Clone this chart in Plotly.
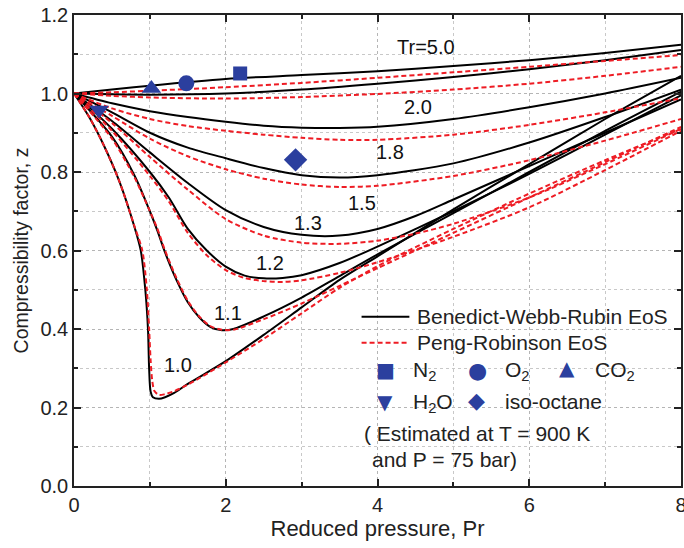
import plotly.graph_objects as go

# ---------------- data ----------------
# Benedict-Webb-Rubin EoS curves
pr_bwr_50 = [0, 0.5, 1, 2, 3, 4, 5, 6, 7, 8]
z_bwr_50 = [1.0, 1.01, 1.02, 1.037, 1.047, 1.057, 1.07, 1.085, 1.103, 1.124]
pr_bwr_20 = [0, 0.5, 1, 2, 3, 4, 5, 6, 7, 8]
z_bwr_20 = [1.0, 0.998, 0.997, 1.0, 1.01, 1.025, 1.042, 1.062, 1.085, 1.111]
pr_bwr_18 = [0, 0.5, 1, 1.5, 2, 2.5, 3, 3.5, 4, 5, 6, 7, 8]
z_bwr_18 = [1.0, 0.975, 0.955, 0.94, 0.928, 0.918, 0.913, 0.912, 0.915, 0.935, 0.965, 1.0, 1.04]
pr_bwr_15 = [0, 0.5, 1, 1.5, 2, 2.5, 3, 3.5, 4, 5, 6, 7, 8]
z_bwr_15 = [1.0, 0.952, 0.9, 0.862, 0.835, 0.81, 0.792, 0.786, 0.792, 0.822, 0.875, 0.94, 1.01]
pr_bwr_13 = [0, 0.5, 1, 1.5, 2, 2.5, 3, 3.5, 4, 4.5, 5, 6, 7, 8]
z_bwr_13 = [1.0, 0.93, 0.85, 0.772, 0.703, 0.66, 0.64, 0.638, 0.655, 0.688, 0.73, 0.815, 0.9, 0.985]
pr_bwr_12 = [0, 0.5, 1, 1.25, 1.5, 1.75, 2, 2.25, 2.5, 2.75, 3, 3.5, 4, 5, 6, 7, 8]
z_bwr_12 = [1.0, 0.91, 0.8, 0.735, 0.655, 0.6, 0.559, 0.536, 0.529, 0.53, 0.537, 0.568, 0.61,
            0.7, 0.795, 0.895, 0.995]
pr_bwr_11 = [0, 0.5, 0.8, 1.0, 1.1, 1.2, 1.35, 1.5, 1.65, 1.8, 1.95, 2.1, 2.5, 3, 3.5, 4, 5, 6, 7, 8]
z_bwr_11 = [1.0, 0.89, 0.79, 0.70, 0.65, 0.595, 0.525, 0.468, 0.43, 0.405, 0.397, 0.4, 0.432,
            0.48, 0.535, 0.59, 0.695, 0.8, 0.905, 1.005]
pr_bwr_10 = [0, 0.2, 0.4, 0.6, 0.8, 0.88, 0.94, 0.975, 0.99, 1.01, 1.04, 1.12, 1.2, 1.32, 1.5, 2,
             2.5, 3, 3.5, 4, 5, 6, 7, 8]
z_bwr_10 = [1.0, 0.94, 0.865, 0.775, 0.658, 0.6, 0.5, 0.4, 0.3, 0.24, 0.226, 0.222, 0.226, 0.237,
            0.26, 0.318, 0.385, 0.455, 0.525, 0.585, 0.705, 0.82, 0.935, 1.045]

# Peng-Robinson EoS curves
pr_pr_50 = [0, 0.5, 1, 2, 3, 4, 5, 6, 7, 8]
z_pr_50 = [1.0, 1.003, 1.007, 1.016, 1.027, 1.04, 1.054, 1.068, 1.083, 1.098]
pr_pr_20 = [0, 0.5, 1, 2, 3, 4, 5, 6, 7, 8]
z_pr_20 = [1.0, 0.994, 0.99, 0.987, 0.991, 0.999, 1.01, 1.025, 1.045, 1.068]
pr_pr_18 = [0, 0.5, 1, 1.5, 2, 2.5, 3, 3.5, 4, 5, 6, 7, 8]
z_pr_18 = [1.0, 0.962, 0.935, 0.917, 0.905, 0.895, 0.887, 0.882, 0.882, 0.895, 0.92, 0.952, 0.988]
pr_pr_15 = [0, 0.5, 1, 1.5, 2, 2.5, 3, 3.5, 4, 5, 6, 7, 8]
z_pr_15 = [1.0, 0.943, 0.885, 0.84, 0.807, 0.783, 0.768, 0.762, 0.765, 0.79, 0.83, 0.88, 0.935]
pr_pr_13 = [0, 0.5, 1, 1.5, 2, 2.5, 3, 3.5, 4, 4.5, 5, 6, 7, 8]
z_pr_13 = [1.0, 0.925, 0.838, 0.755, 0.68, 0.638, 0.62, 0.617, 0.625, 0.643, 0.668, 0.735, 0.82, 0.91]
pr_pr_12 = [0, 0.5, 1, 1.25, 1.5, 1.75, 2, 2.25, 2.5, 2.75, 3, 3.5, 4, 5, 6, 7, 8]
z_pr_12 = [1.0, 0.905, 0.79, 0.725, 0.645, 0.588, 0.55, 0.53, 0.522, 0.52, 0.524, 0.543, 0.57,
           0.635, 0.71, 0.805, 0.905]
pr_pr_11 = [0, 0.5, 0.8, 1.0, 1.1, 1.2, 1.35, 1.5, 1.65, 1.8, 1.95, 2.1, 2.5, 3, 3.5, 4, 5, 6, 7, 8]
z_pr_11 = [1.0, 0.885, 0.785, 0.70, 0.655, 0.6, 0.53, 0.472, 0.432, 0.407, 0.398, 0.398, 0.425,
           0.465, 0.51, 0.555, 0.645, 0.735, 0.825, 0.915]
pr_pr_10 = [0, 0.2, 0.4, 0.6, 0.8, 0.9, 0.96, 0.99, 1.01, 1.03, 1.06, 1.12, 1.2, 1.3, 1.5, 2,
            2.5, 3, 3.5, 4, 5, 6, 7, 8]
z_pr_10 = [1.0, 0.94, 0.865, 0.775, 0.66, 0.6, 0.5, 0.4, 0.32, 0.27, 0.242, 0.232, 0.234, 0.24,
           0.258, 0.315, 0.375, 0.44, 0.505, 0.56, 0.655, 0.745, 0.83, 0.91]

# Species estimated at T = 900 K and P = 75 bar
species = ["N2", "O2", "CO2", "H2O", "iso-octane"]
pr_species = [2.19, 1.48, 1.02, 0.33, 2.92]
z_species = [1.051, 1.026, 1.013, 0.958, 0.831]
species_symbols = ["square", "circle", "triangle-up", "triangle-down", "diamond"]
species_sizes = [14, 16, 17, 17, 18]

# Curve labels
tr_labels = ["Tr=5.0", "2.0", "1.8", "1.5", "1.3", "1.2", "1.1", "1.0"]
tr_label_pr = [4.64, 4.53, 4.16, 3.79, 3.08, 2.58, 2.03, 1.37]
tr_label_z = [1.118, 0.966, 0.852, 0.721, 0.671, 0.567, 0.44, 0.308]

FONT = "Liberation Sans, Arial, sans-serif"
BLUE = "#2b3f9e"
RED = "#ee1c24"

bwr = [(pr_bwr_50, z_bwr_50), (pr_bwr_20, z_bwr_20), (pr_bwr_18, z_bwr_18), (pr_bwr_15, z_bwr_15),
       (pr_bwr_13, z_bwr_13), (pr_bwr_12, z_bwr_12), (pr_bwr_11, z_bwr_11), (pr_bwr_10, z_bwr_10)]
pr_eos = [(pr_pr_50, z_pr_50), (pr_pr_20, z_pr_20), (pr_pr_18, z_pr_18), (pr_pr_15, z_pr_15),
          (pr_pr_13, z_pr_13), (pr_pr_12, z_pr_12), (pr_pr_11, z_pr_11), (pr_pr_10, z_pr_10)]

fig = go.Figure()
for (x, y) in bwr:
    fig.add_trace(go.Scatter(x=x, y=y, mode="lines", showlegend=False,
                             line=dict(color="black", width=2, shape="spline", smoothing=0.8)))
for (x, y) in pr_eos:
    fig.add_trace(go.Scatter(x=x, y=y, mode="lines", showlegend=False,
                             line=dict(color=RED, width=2, dash="5px,3px", shape="spline",
                                       smoothing=0.8)))
for i in range(len(species)):
    fig.add_trace(go.Scatter(x=[pr_species[i]], y=[z_species[i]], mode="markers",
                             showlegend=False, name=species[i],
                             marker=dict(symbol=species_symbols[i], size=species_sizes[i],
                                         color=BLUE, line=dict(width=0))))

annotations = []
for t, px, pz in zip(tr_labels, tr_label_pr, tr_label_z):
    annotations.append(dict(x=px, y=pz, xref="x", yref="y", text=t, showarrow=False,
                            font=dict(family=FONT, size=20, color="#111")))

# ---- hand-built legend (inside the plot, lower right) ----
shapes = [
    dict(type="line", xref="x", yref="y", x0=3.79, x1=4.42, y0=0.431, y1=0.431,
         line=dict(color="black", width=2)),
    dict(type="line", xref="x", yref="y", x0=3.79, x1=4.42, y0=0.365, y1=0.365,
         line=dict(color=RED, width=2, dash="5px,3px")),
]
leg_font = dict(family=FONT, size=21, color="#222")
leg_text = [
    (4.5, 0.431, "Benedict-Webb-Rubin EoS"),
    (4.5, 0.365, "Peng-Robinson EoS"),
    (4.44, 0.292, "N<sub>2</sub>"),
    (5.66, 0.292, "O<sub>2</sub>"),
    (6.84, 0.292, "CO<sub>2</sub>"),
    (4.44, 0.212, "H<sub>2</sub>O"),
    (5.66, 0.215, "iso-octane"),
    (3.8, 0.135, "( Estimated at T = 900 K"),
    (3.9, 0.068, "and P = 75 bar)"),
]
for x, y, t in leg_text:
    annotations.append(dict(x=x, y=y, xref="x", yref="y", text=t, showarrow=False,
                            xanchor="left", yanchor="middle", font=leg_font))
leg_glyphs = [(4.1, 0.296, "\u25A0", 20), (5.32, 0.294, "\u25CF", 22), (6.5, 0.30, "\u25B2", 20),
              (4.1, 0.215, "\u25BC", 20), (5.3, 0.219, "\u25C6", 22)]
for x, y, g, s in leg_glyphs:
    annotations.append(dict(x=x, y=y, xref="x", yref="y", text=g, showarrow=False,
                            xanchor="center", yanchor="middle",
                            font=dict(family="DejaVu Sans", size=s, color=BLUE)))

axis_common = dict(showline=True, linecolor="#222", linewidth=1.5, mirror="allticks",
                   ticks="inside", ticklen=7, tickwidth=1.5, tickcolor="#222",
                   showgrid=True, gridcolor="#b5b5b5", griddash="dot", gridwidth=1,
                   zeroline=False, ticklabeloverflow="allow", automargin=False,
                   tickfont=dict(family=FONT, size=20, color="#222"))

fig.update_layout(
    width=684, height=548,
    margin=dict(l=74, r=3, t=15, b=62),
    paper_bgcolor="white", plot_bgcolor="white",
    font=dict(family=FONT, size=20, color="#222"),
    annotations=annotations, shapes=shapes,
    xaxis=dict(range=[0, 8], tickvals=[0, 2, 4, 6, 8], ticktext=["0", "2", "4", "6", "8"],
               minor=dict(tickvals=[1, 3, 5, 7], ticks="inside", ticklen=4, tickcolor="#222",
                          showgrid=True, gridcolor="#c8c8c8", griddash="dot"),
               title=dict(text="Reduced pressure, Pr", standoff=5,
                          font=dict(family=FONT, size=22, color="#222")),
               **axis_common),
    yaxis=dict(range=[0, 1.2], dtick=0.2, tickformat=".1f",
               minor=dict(dtick=0.1, ticks="inside", ticklen=4, tickcolor="#222",
                          showgrid=True, gridcolor="#c8c8c8", griddash="dot"),
               title=dict(text="Compressibility factor, z", standoff=7,
                          font=dict(family=FONT, size=19.5, color="#222")),
               **axis_common),
)

fig.write_html("out.html")
